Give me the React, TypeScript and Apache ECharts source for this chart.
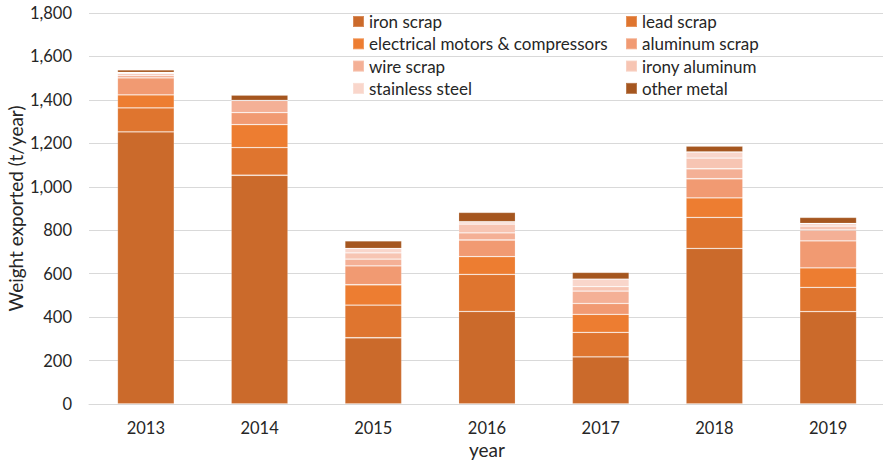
import React, { useEffect, useRef } from "react";
import * as echarts from "echarts";

const years = ["2013", "2014", "2015", "2016", "2017", "2018", "2019"];
const seriesNames = [
  "iron scrap",
  "lead scrap",
  "electrical motors & compressors",
  "aluminum scrap",
  "wire scrap",
  "irony aluminum",
  "stainless steel",
  "other metal",
];
const ironScrap = [1253, 1053, 305, 426, 217, 716, 425];
const leadScrap = [110, 127, 150, 171, 113, 143, 112];
const electricalMotors = [60, 106, 94, 81, 83, 90, 90];
const aluminumScrap = [78, 55, 87, 77, 50, 88, 124];
const wireScrap = [12, 57, 31, 33, 57, 46, 50];
const ironyAluminum = [8, 0, 29, 40, 20, 49, 18];
const stainlessSteel = [5, 0, 20, 11, 35, 28, 12];
const otherMetal = [12, 24, 35, 43, 31, 27, 28];
const yTicks = { min: 0, max: 1800, interval: 200 };

const seriesData = [
  ironScrap,
  leadScrap,
  electricalMotors,
  aluminumScrap,
  wireScrap,
  ironyAluminum,
  stainlessSteel,
  otherMetal,
];
const colors = [
  "#CB6A2B",
  "#DF752F",
  "#ED7D31",
  "#F19A72",
  "#F4B096",
  "#F7C5B3",
  "#F9D6CB",
  "#A5561F",
];

const FONT = "Lato";
const TEXT = "#262626";

export default function App() {
  const ref = useRef<HTMLDivElement>(null);
  useEffect(() => {
    document.body.style.margin = "0";
    if (!ref.current) return;
    const chart = echarts.init(ref.current, undefined, { renderer: "svg" });
    const legendCommon = {
      orient: "vertical" as const,
      top: 13,
      padding: 0,
      itemWidth: 11,
      itemHeight: 11,
      itemGap: 5.3,
      icon: "rect",
      textStyle: { fontFamily: FONT, fontSize: 17, color: TEXT, lineHeight: 17 },
    };
    chart.setOption({
      animation: false,
      color: colors,
      grid: { left: 89, right: -2, top: 13, bottom: 57, outerBoundsMode: "none", containLabel: false },
      legend: [
        { ...legendCommon, left: 352, data: [seriesNames[0], seriesNames[2], seriesNames[4], seriesNames[6]] },
        { ...legendCommon, left: 625, data: [seriesNames[1], seriesNames[3], seriesNames[5], seriesNames[7]] },
      ],
      xAxis: {
        type: "category",
        data: years,
        name: "year",
        nameLocation: "middle",
        nameGap: 36,
        nameMoveOverlap: false,
        nameTextStyle: { fontFamily: FONT, fontSize: 19, color: TEXT },
        axisLine: { lineStyle: { color: "#D9D9D9" } },
        axisTick: { show: false },
        axisLabel: { fontFamily: FONT, fontSize: 16.5, color: TEXT, margin: 15 },
      },
      yAxis: {
        type: "value",
        min: yTicks.min,
        max: yTicks.max,
        interval: yTicks.interval,
        name: "Weight exported (t/year)",
        nameLocation: "middle",
        nameGap: 64,
        nameMoveOverlap: false,
        nameRotate: 90,
        nameTextStyle: { fontFamily: FONT, fontSize: 19, color: TEXT },
        axisLine: { show: false },
        axisTick: { show: false },
        splitLine: { lineStyle: { color: "#D9D9D9", width: 1 } },
        axisLabel: {
          fontFamily: FONT,
          fontSize: 16.5,
          color: TEXT,
          margin: 17,
          formatter: (v: number) => v.toLocaleString("en-US"),
        },
      },
      series: seriesNames.map((name, i) => ({
        name,
        type: "bar",
        stack: "total",
        data: seriesData[i],
        barCategoryGap: "50%",
        itemStyle: { borderColor: "rgba(255,255,255,0.22)", borderWidth: 0.8 },
      })),
    });
    return () => chart.dispose();
  }, []);
  return <div ref={ref} style={{ width: 883, height: 461 }} />;
}
